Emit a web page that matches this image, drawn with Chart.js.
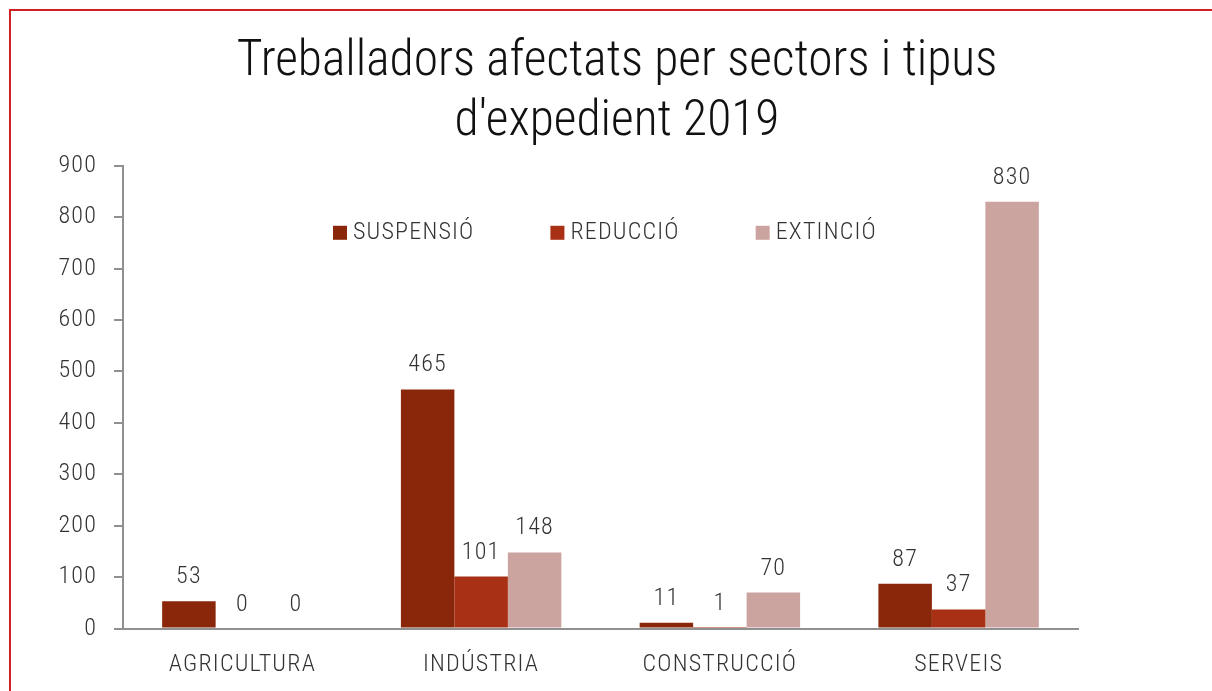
<!DOCTYPE html>
<html>
<head>
<meta charset="utf-8">
<script src="https://cdn.jsdelivr.net/npm/chart.js@4/dist/chart.umd.min.js"></script>
<style>
    html, body { margin: 0; padding: 0; background: #fff; overflow: hidden; }
    #frame {
        position: absolute; left: 9px; top: 9px;
        width: 1300px; height: 800px;
        border: 2px solid #d11f26;
    }
    #wrap { position: absolute; left: 0; top: 0; width: 1212px; height: 691px; }
</style>
</head>
<body>
<div id="frame"></div>
<div id="wrap"><canvas id="chart"></canvas></div>
<script>
const sectors = ['AGRICULTURA', 'INDÚSTRIA', 'CONSTRUCCIÓ', 'SERVEIS'];
const series_names = ['SUSPENSIÓ', 'REDUCCIÓ', 'EXTINCIÓ'];
const suspensio = [53, 465, 11, 87];
const reduccio = [0, 101, 1, 37];
const extincio = [0, 148, 70, 830];
const colors = ['#8a260a', '#a83014', '#cba39f'];
const title_lines = ['Treballadors afectats per sectors i tipus', "d'expedient 2019"];

const font_family = '"Roboto Condensed", "Liberation Sans Narrow", "DejaVu Sans Condensed", sans-serif';
const text_color = '#333333';
const axis_color = '#909090';
const label_spacing = '1.2px';
const label_font = { family: font_family, size: 24, weight: '300' };

// value labels above each bar
const valueLabels = {
    id: 'valueLabels',
    afterDatasetsDraw(chart) {
        const ctx = chart.ctx;
        ctx.save();
        ctx.font = '300 24px ' + font_family;
        ctx.letterSpacing = label_spacing;
        ctx.fillStyle = text_color;
        ctx.textAlign = 'center';
        ctx.textBaseline = 'alphabetic';
        chart.data.datasets.forEach((ds, i) => {
            chart.getDatasetMeta(i).data.forEach((bar, j) => {
                ctx.fillText(String(ds.data[j]), bar.x, bar.y - 18);
            });
        });
        ctx.restore();
    }
};

// legend drawn inside the plot, one row
const innerLegend = {
    id: 'innerLegend',
    afterDraw(chart) {
        const ctx = chart.ctx;
        const area = chart.chartArea;
        ctx.save();
        ctx.font = '300 24px ' + font_family;
        ctx.letterSpacing = label_spacing;
        ctx.textBaseline = 'middle';
        ctx.textAlign = 'left';
        let x = area.left + 210;
        const y = area.top + 67;
        chart.data.datasets.forEach(ds => {
            ctx.fillStyle = ds.backgroundColor;
            ctx.fillRect(x, y - 7, 14, 14);
            ctx.fillStyle = text_color;
            ctx.fillText(ds.label, x + 20, y);
            x += 20 + ctx.measureText(ds.label).width + 76;
        });
        ctx.restore();
    }
};

// wider letters for the axis text, none for the title;
// title is centred a little right of the plot
const nudge = {
    id: 'nudge',
    afterLayout(chart) {
        const tb = chart.titleBlock;
        tb.left = 0;
        tb.right = 1234;
        if (!tb._plainDraw) {
            tb._plainDraw = tb.draw;
            tb.draw = function (area) {
                const prev = chart.ctx.letterSpacing;
                chart.ctx.letterSpacing = '0px';
                tb._plainDraw(area);
                chart.ctx.letterSpacing = prev;
            };
        }
    },
    beforeDraw(chart) {
        chart.ctx.letterSpacing = label_spacing;
    },
    afterDraw(chart) {
        chart.ctx.letterSpacing = '0px';
    }
};

const datasets = [suspensio, reduccio, extincio].map((vals, i) => ({
    label: series_names[i],
    data: vals,
    backgroundColor: colors[i],
    borderWidth: 0,
    categoryPercentage: 0.672,
    barPercentage: 1.0
}));

new Chart(document.getElementById('chart'), {
    type: 'bar',
    data: { labels: sectors, datasets: datasets },
    plugins: [valueLabels, innerLegend, nudge],
    options: {
        responsive: true,
        maintainAspectRatio: false,
        animation: false,
        layout: { padding: { left: 22, right: 134, top: 0, bottom: 0 } },
        plugins: {
            tooltip: { enabled: false },
            legend: { display: false },
            title: {
                display: true,
                text: title_lines,
                color: '#111',
                font: { family: font_family, size: 49.5, weight: '300', lineHeight: 1.22 },
                padding: { top: 32, bottom: 13 }
            }
        },
        scales: {
            x: {
                grid: { display: false },
                border: { display: true, color: axis_color, width: 2 },
                ticks: { color: text_color, font: label_font, padding: 14 },
                afterFit(scale) { scale.height = 62.5; }
            },
            y: {
                min: 0,
                max: 900,
                ticks: { stepSize: 100, color: text_color, font: label_font, padding: 17 },
                grid: { display: true, drawOnChartArea: false, drawTicks: true, tickLength: 9, color: axis_color, lineWidth: 2 },
                border: { display: true, color: axis_color, width: 2 },
                afterFit(scale) { scale.width = 101; }
            }
        }
    }
});
</script>
</body>
</html>
